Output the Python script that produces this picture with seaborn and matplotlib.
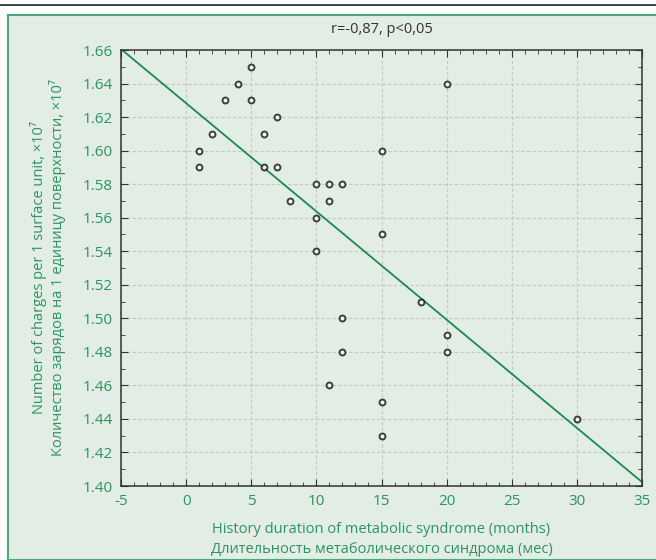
import numpy as np
import pandas as pd
import seaborn as sns
import matplotlib.pyplot as plt
from matplotlib.patches import Rectangle
from matplotlib.lines import Line2D
from matplotlib.ticker import MultipleLocator

# длительность МС (мес) и количество зарядов
meses = [1, 1, 2, 3, 4, 5, 5, 6, 6, 7, 7, 8, 10, 10, 10, 11, 11, 12,
         11, 12, 12, 15, 15, 15, 15, 18, 20, 20, 20, 30]
cargas = [1.60, 1.59, 1.61, 1.63, 1.64, 1.65, 1.63, 1.61, 1.59, 1.62, 1.59, 1.57,
          1.58, 1.56, 1.54, 1.58, 1.57, 1.58, 1.46, 1.50, 1.48, 1.60, 1.55,
          1.45, 1.43, 1.51, 1.64, 1.49, 1.48, 1.44]
titulo = "r=-0,87, p<0,05"

df = pd.DataFrame({"x": meses, "y": cargas})

sns.set_style("ticks")
plt.rcParams['font.family'] = ['Open Sans', 'DejaVu Sans']
plt.rcParams['axes.unicode_minus'] = False

fundo = "#e1ede5"
verde = "#2e935f"

fig = plt.figure(figsize=(6.56, 5.6), dpi=100, facecolor="white")
# moldura do painel
fig.patches.append(Rectangle((8 / 656, 0), 1, 1 - 15 / 560, transform=fig.transFigure,
                             facecolor=fundo, edgecolor="#4aa87a", linewidth=1.5, zorder=-1))
fig.lines.append(Line2D([0, 1], [1 - 5 / 560, 1 - 5 / 560], transform=fig.transFigure,
                        color="#222222", linewidth=1.2))

ax = fig.add_axes([121 / 656, 1 - 486 / 560, (642 - 121) / 656, (486 - 50) / 560])
ax.set_facecolor(fundo)
ax.set_xlim(-5, 35)
ax.set_ylim(1.40, 1.66)

sns.regplot(data=df, x="x", y="y", ax=ax, ci=None, truncate=False,
            scatter_kws=dict(s=18, facecolors="white", edgecolors="#111111", linewidths=1.4, zorder=3),
            line_kws=dict(color="#1b8a4e", linewidth=1.3, zorder=2))

ax.set_xlim(-5, 35)
ax.set_ylim(1.40, 1.66)
ax.xaxis.set_major_locator(MultipleLocator(5))
ax.xaxis.set_minor_locator(MultipleLocator(1))
ax.yaxis.set_major_locator(MultipleLocator(0.02))
ax.yaxis.set_minor_locator(MultipleLocator(0.01))
ax.yaxis.set_major_formatter(plt.FormatStrFormatter("%.2f"))
ax.grid(True, which="major", linestyle=(0, (3, 2)), color="#c4c8c6", linewidth=0.8)
ax.set_axisbelow(True)

ax.tick_params(which="both", direction="in", top=True, right=True, colors="#333333",
               labelcolor=verde, labelsize=11)
ax.tick_params(which="major", length=5, pad=6)
ax.tick_params(which="minor", length=3)
for s in ax.spines.values():
    s.set_color("#333333")
    s.set_linewidth(1.1)

ax.set_xlabel("History duration of metabolic syndrome (months)\n"
              "Длительность метаболического синдрома (мес)",
              color=verde, fontsize=10.5, linespacing=1.45, labelpad=9)
ax.set_ylabel("Number of charges per 1 surface unit, ×10⁷\n"
              "Количество зарядов на 1 единицу поверхности, ×10⁷",
              color=verde, fontsize=10.5, linespacing=1.1, labelpad=12)
ax.set_title(titulo, color="#333333", fontsize=10.5, pad=12)

fig.savefig("out.png", dpi=100, facecolor="white")
